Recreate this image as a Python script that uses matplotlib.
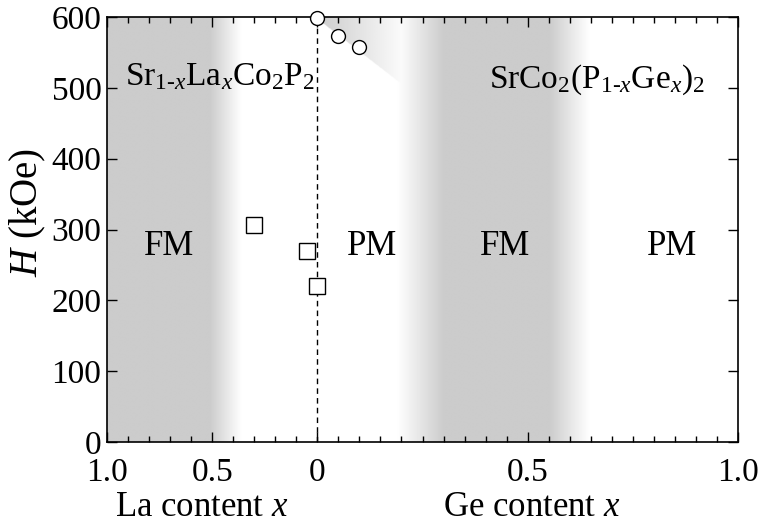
import numpy as np
import matplotlib
matplotlib.use("Agg")
import matplotlib.pyplot as plt
from matplotlib.ticker import MultipleLocator

plt.rcParams['font.family'] = ['Liberation Serif', 'DejaVu Serif']
plt.rcParams['mathtext.fontset'] = 'custom'
plt.rcParams['mathtext.rm'] = 'Liberation Serif'
plt.rcParams['mathtext.it'] = 'Liberation Serif:italic'

# data: La side plotted on negative axis (compressed x1/2), Ge side positive
la_x = [0.30, 0.05, 0.0]
la_H = [307, 270, 220]
ge_x = [0.0, 0.05, 0.10]
ge_H = [598, 573, 557]

# shading profile (data coordinates, 1 = fully gray)
shade_x = [-0.5, -0.255, -0.18, 0.19, 0.30, 0.553, 0.648, 1.0]
shade_lvl = [1, 1, 0, 0, 1, 1, 0, 0]
# top wedge along the high-field points
wedge_x = [0.0, 0.22]
wedge_lvl = [1, 0]
wedge_top = 598
wedge_slope = -460

tick_pos = [-0.5, -0.25, 0, 0.5, 1.0]
tick_lab = ['1.0', '0.5', '0', '0.5', '1.0']

fig = plt.figure(figsize=(7.66, 5.30), dpi=100)
ax = fig.add_axes([107/766, 1 - 442/530, (738-107)/766, (442-17)/530])

# background shading
xs = np.linspace(-0.5, 1.0, 1500)
ys = np.linspace(0, 600, 600)
X, Y = np.meshgrid(xs, ys)
d = np.interp(X, shade_x, shade_lvl)
w = np.interp(X, wedge_x, wedge_lvl) * (Y > wedge_top + wedge_slope * X)
d = np.maximum(d, w)
gray = 1 - d * (1 - 0.80)
ax.imshow(gray, extent=[-0.5, 1.0, 0, 600], origin='lower', cmap='gray',
          vmin=0, vmax=1, aspect='auto', interpolation='bilinear', zorder=0)

ax.axvline(0, color='black', lw=1.0, ls=(0, (4, 3)), zorder=1)

ax.plot(-np.array(la_x) / 2, la_H, 's', ms=11, mfc='white', mec='black',
        mew=1.0, zorder=3, clip_on=False)
ax.plot(ge_x, ge_H, 'o', ms=10, mfc='white', mec='black',
        mew=1.0, zorder=3, clip_on=False)

ax.set_xlim(-0.5, 1.0)
ax.set_ylim(0, 600)
ax.set_xticks(tick_pos)
ax.set_xticklabels(tick_lab)
ax.xaxis.set_minor_locator(MultipleLocator(0.05))
ax.yaxis.set_major_locator(MultipleLocator(100))
ax.tick_params(which='both', direction='in', top=True, right=True,
               labelsize=24, width=1.0)
ax.tick_params(which='major', length=7)
ax.tick_params(which='minor', length=4)
ax.tick_params(axis='x', pad=11)
ax.tick_params(axis='y', pad=4)
for s in ax.spines.values():
    s.set_linewidth(1.2)

ax.set_ylabel(r'$H$ (kOe)', fontsize=28)
ax.yaxis.set_label_coords(-0.094, 0.54)

fs = 25
ax.text(-0.23, 515, r'Sr$_{1\text{-}x}$La$_x$Co$_2$P$_2$', fontsize=24,
        ha='center', va='center')
ax.text(0.665, 512, r'SrCo$_2$(P$_{1\text{-}x}$Ge$_x$)$_2$', fontsize=24,
        ha='center', va='center')
ax.text(-0.352, 276, 'FM', fontsize=fs, ha='center', va='center')
ax.text(0.13, 276, 'PM', fontsize=fs, ha='center', va='center')
ax.text(0.447, 276, 'FM', fontsize=fs, ha='center', va='center')
ax.text(0.843, 276, 'PM', fontsize=fs, ha='center', va='center')

ax.text(-0.275, -0.155, r'La content $x$', fontsize=fs, ha='center',
        va='center', transform=ax.get_xaxis_transform())
ax.text(0.51, -0.155, r'Ge content $x$', fontsize=fs, ha='center',
        va='center', transform=ax.get_xaxis_transform())

fig.savefig('out.png', dpi=100)
